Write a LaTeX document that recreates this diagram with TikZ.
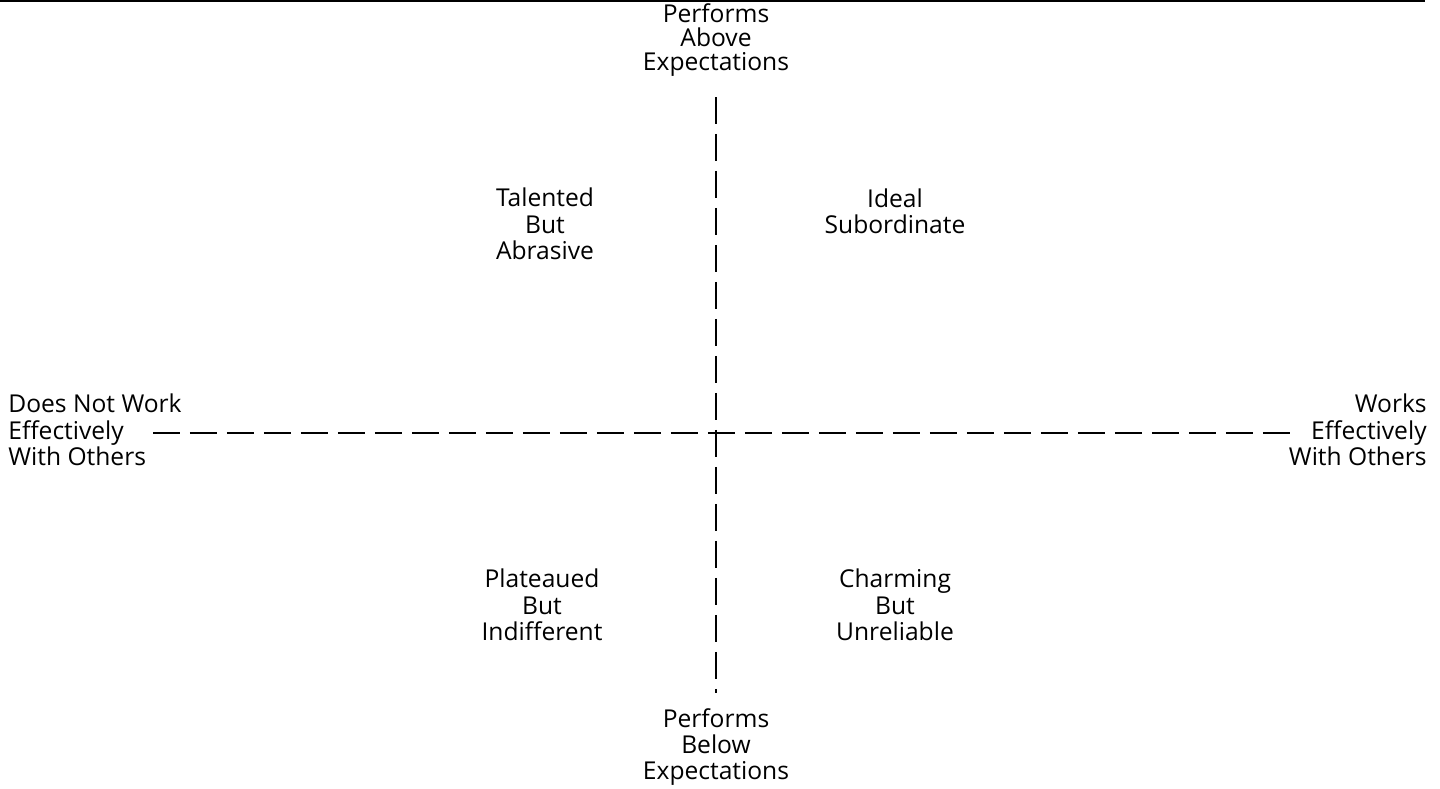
\documentclass[tikz,border=0pt]{standalone}
\usepackage{fontspec}
\setmainfont{Open Sans}

\begin{document}
\begin{tikzpicture}[x=0.02cm,y=-0.02cm,
  axis/.style={line width=1.4pt,dash pattern=on 0.54cm off 0.2cm},
  lbl/.style={align=center,inner sep=0pt,font=\fontsize{14}{15}\selectfont}]
\useasboundingbox (0,0) rectangle (1440,788);

\coordinate (top) at (716,97);
\coordinate (bottom) at (716,693);
\coordinate (left) at (153,433);
\coordinate (right) at (1298,433);

\node[lbl,font=\fontsize{14}{13.6}\selectfont] (above) at (716,40) {Performs\\Above\\Expectations};
\node[lbl] (below) at (716,747) {Performs\\Below\\Expectations};
\node[lbl,align=left,anchor=west] (poor) at (8,430) {Does Not Work\\Effectively\\With Others};
\node[lbl,align=right,anchor=east] (good) at (1427,430) {Works\\Effectively\\With Others};

\node[lbl] (talented) at (545,224) {Talented\\But\\Abrasive};
\node[lbl] (ideal) at (895,211) {Ideal\\Subordinate};
\node[lbl] (plateaued) at (542,605) {Plateaued\\But\\Indifferent};
\node[lbl] (charming) at (895,605) {Charming\\But\\Unreliable};

\draw[axis] (top) -- (bottom);
\draw[axis] (left) -- (right);

\draw[line width=1.2pt] (0,1) -- (1425,1);
\end{tikzpicture}
\end{document}
